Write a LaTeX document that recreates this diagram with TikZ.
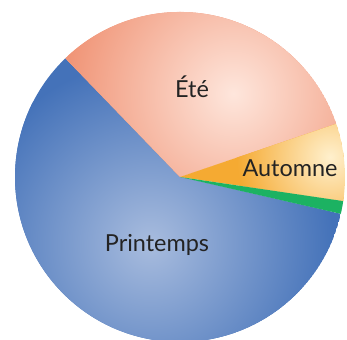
\documentclass[tikz,border=0pt]{standalone}
\usepackage{fontspec}
\setmainfont{Lato}
\definecolor{bleuB}{RGB}{68,114,185}
\definecolor{bleuC}{RGB}{168,188,222}
\definecolor{saumonB}{RGB}{240,148,118}
\definecolor{saumonC}{RGB}{254,230,220}
\definecolor{orangeB}{RGB}{245,170,50}
\definecolor{orangeC}{RGB}{255,240,205}
\definecolor{vert}{RGB}{28,178,98}
\definecolor{texte}{RGB}{35,35,35}
\tikzset{etiquette/.style={text=texte,font=\fontsize{20}{24}\selectfont}}
\begin{document}
\begin{tikzpicture}
\useasboundingbox (-5.4,-4.89) rectangle (5.01,5.31);
\def\R{4.95}
% Printemps
\begin{scope}
\clip (0,0)--(134:\R) arc (134:347.1:\R)--cycle;
\fill[bleuB] (0,0) circle (\R);
\shade[inner color=bleuC,outer color=bleuB] (-0.9,-2.0) circle (5.5);
\end{scope}
% Ete
\begin{scope}
\clip (0,0)--(18.8:\R) arc (18.8:134:\R)--cycle;
\fill[saumonB] (0,0) circle (\R);
\shade[inner color=saumonC,outer color=saumonB] (1.6,2.5) circle (5.1);
\end{scope}
% Automne
\begin{scope}
\clip (0,0)--(-8.4:\R) arc (-8.4:18.8:\R)--cycle;
\fill[orangeB] (0,0) circle (\R);
\shade[inner color=orangeC,outer color=orangeB] (4.5,0.6) circle (2.8);
\end{scope}
% vert
\fill[vert] (0,0)--(-12.9:\R) arc (-12.9:-8.4:\R)--cycle;

\node[etiquette] (ete) at (0.36,2.7) {Été};
\node[etiquette] (automne) at (3.3,0.27) {Automne};
\node[etiquette] (printemps) at (-0.69,-2.04) {Printemps};
\end{tikzpicture}
\end{document}
